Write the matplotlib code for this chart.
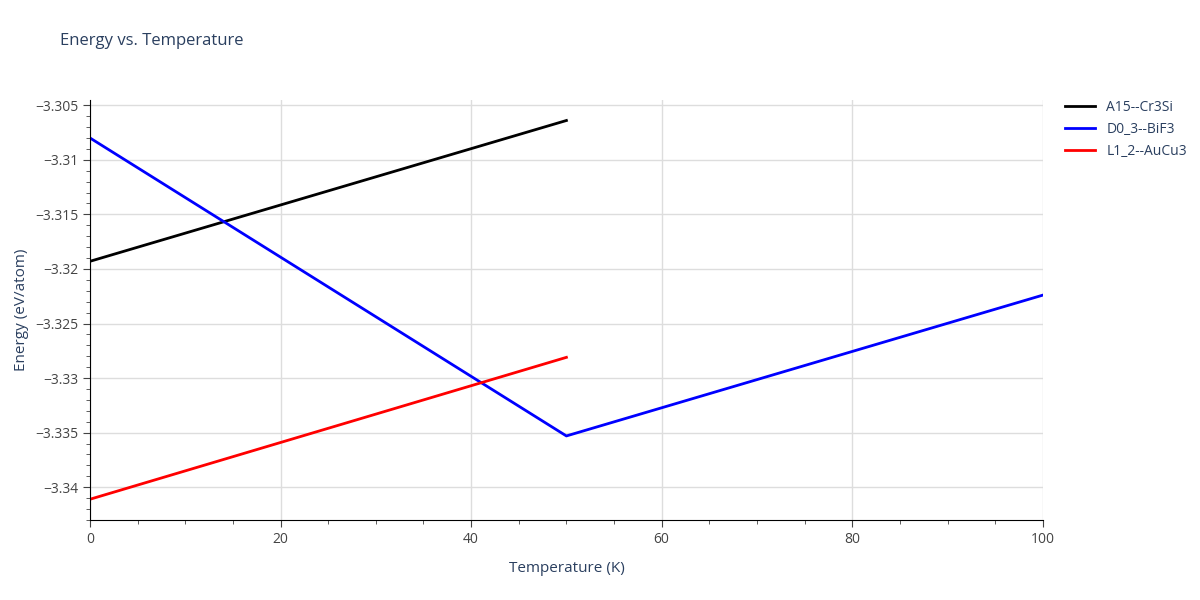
import matplotlib
matplotlib.use("Agg")
import matplotlib.pyplot as plt
from matplotlib.ticker import MultipleLocator

a15_t = [0, 50]
a15_e = [-3.3193, -3.3064]
d03_t = [0, 50, 100]
d03_e = [-3.3080, -3.3353, -3.3224]
l12_t = [0, 50]
l12_e = [-3.3411, -3.3281]

plt.rcParams['font.family'] = ['Open Sans', 'DejaVu Sans']
fig = plt.figure(figsize=(12, 6), dpi=100)
ax = fig.add_axes([0.075, 0.133, 0.794, 0.70])

ax.plot(a15_t, a15_e, color='black', lw=2, label='A15--Cr3Si')
ax.plot(d03_t, d03_e, color='blue', lw=2, label='D0_3--BiF3')
ax.plot(l12_t, l12_e, color='red', lw=2, label='L1_2--AuCu3')

ax.set_xlim(0, 100)
ax.set_ylim(-3.34302, -3.30454)
ax.xaxis.set_major_locator(MultipleLocator(20))
ax.xaxis.set_minor_locator(MultipleLocator(5))
ax.yaxis.set_major_locator(MultipleLocator(0.005))
ax.yaxis.set_minor_locator(MultipleLocator(0.001))
ax.yaxis.set_major_formatter(plt.FuncFormatter(lambda v, p: f"{v:.3f}".rstrip('0').replace('-', '\u2212')))
ax.grid(True, which='major', color='#dddddd', lw=1)
ax.set_axisbelow(True)
for s in ['top', 'right']:
    ax.spines[s].set_visible(False)
ax.tick_params(which='both', direction='out', colors='#444444', labelsize=10)
ax.tick_params(which='major', length=5)
ax.tick_params(which='minor', length=3)

ax.set_xlabel('Temperature (K)', color='#2a3f5f', fontsize=11, labelpad=10)
ax.set_ylabel('Energy (eV/atom)', color='#2a3f5f', fontsize=11)
fig.text(0.05, 0.925, 'Energy vs. Temperature', color='#2a3f5f', fontsize=12)
ax.legend(loc='upper left', bbox_to_anchor=(1.01, 1.03), frameon=False, fontsize=10,
          handlelength=2.2, labelcolor='#2a3f5f')

fig.savefig('out.png')
